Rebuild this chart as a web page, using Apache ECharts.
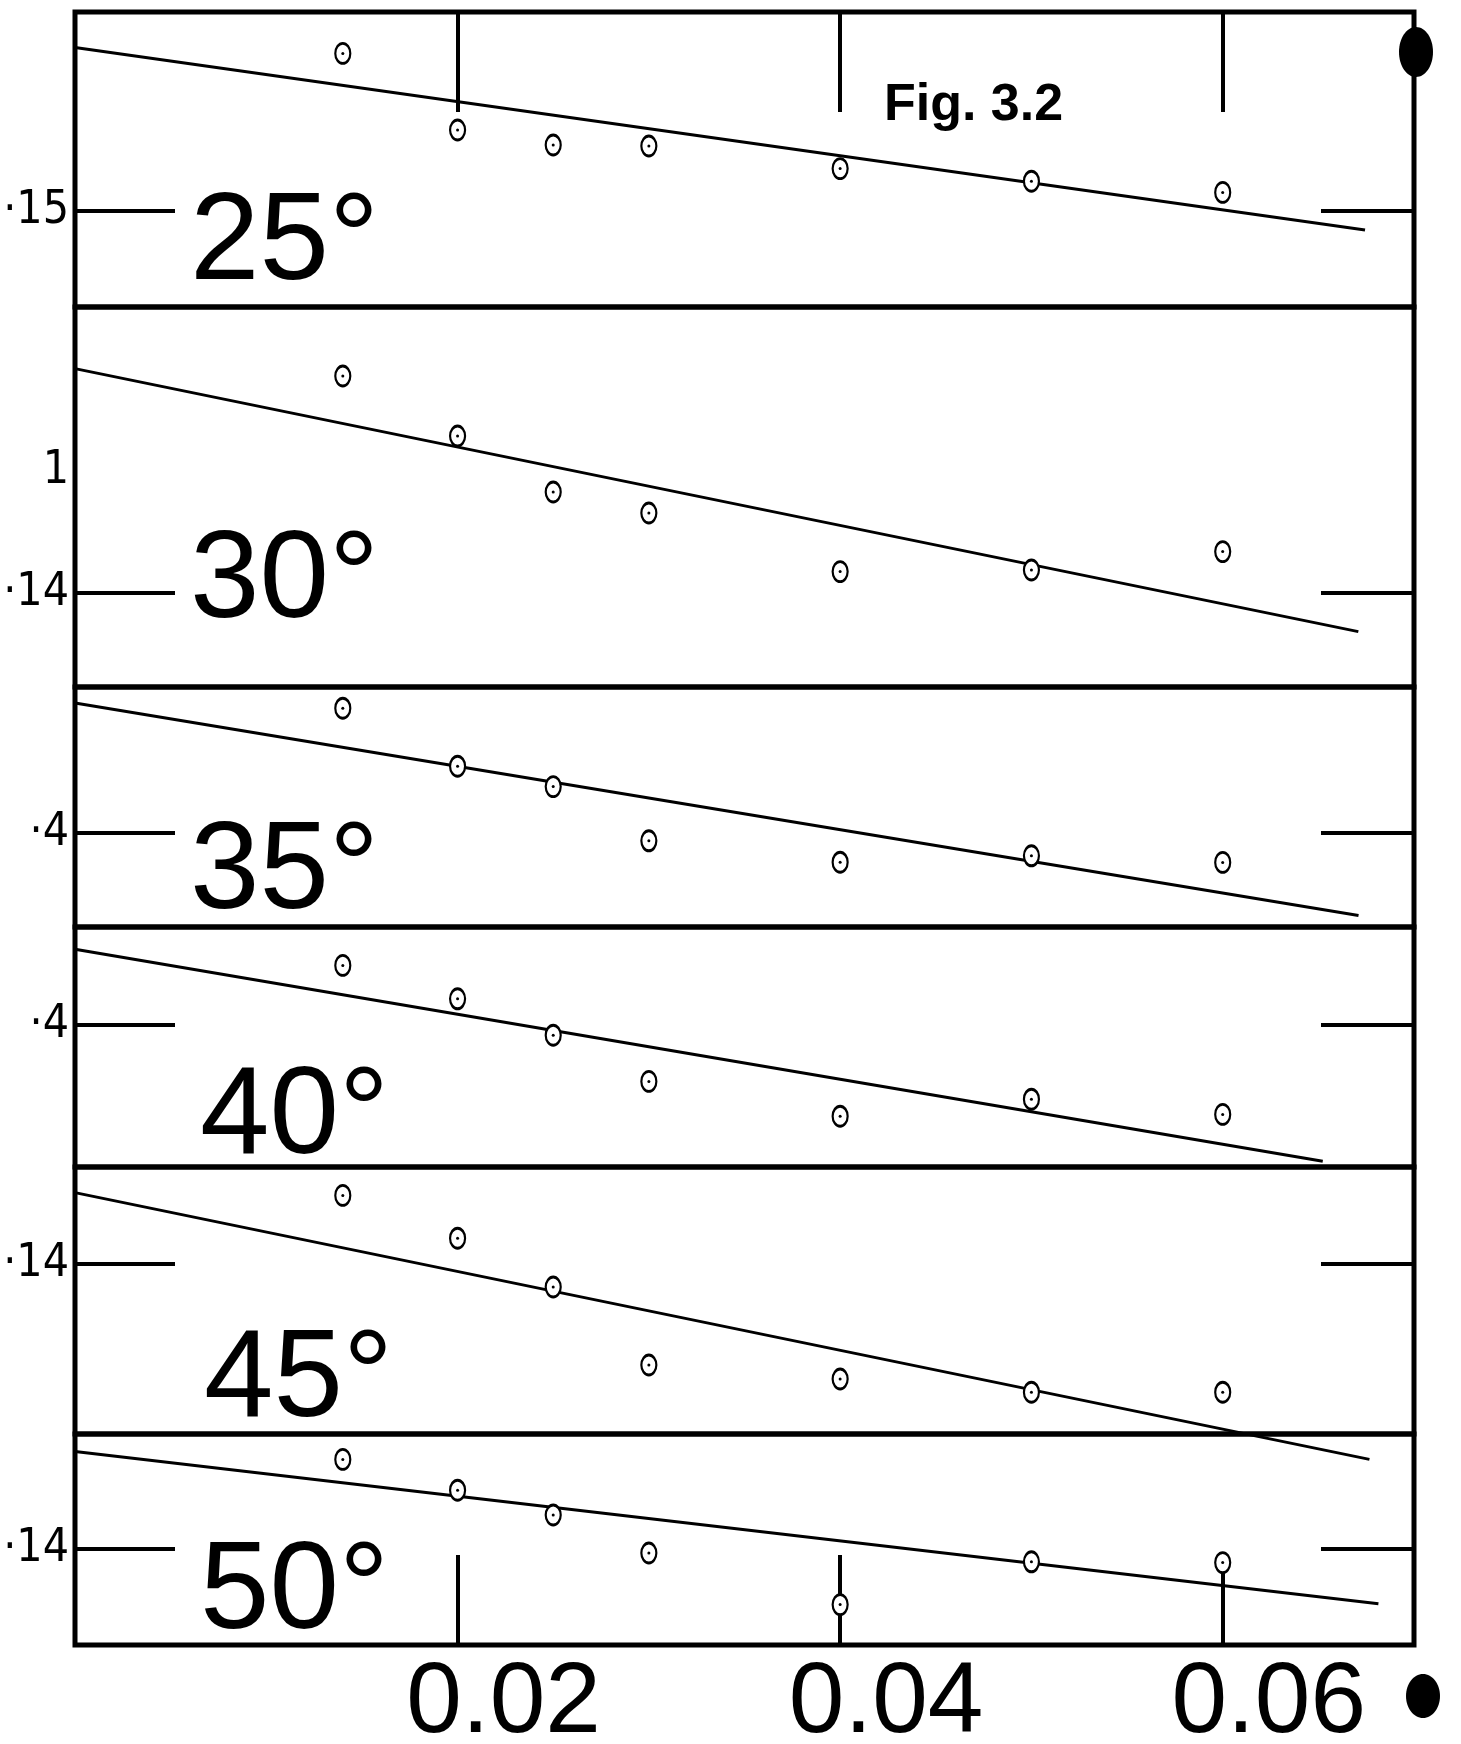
<!DOCTYPE html>
<html><head><meta charset="utf-8">
<script src="https://cdn.jsdelivr.net/npm/echarts@6/dist/echarts.min.js"></script>
<style>html,body{margin:0;padding:0;background:#fff}#c{width:1461px;height:1744px}</style>
</head><body><div id="c"></div>
<script>
// ---- data ----
const xValues = [0.014, 0.02, 0.025, 0.03, 0.04, 0.05, 0.06];
const panelTitles = ['25°', '30°', '35°', '40°', '45°', '50°'];
const y25 = [0.15788, 0.15405, 0.15330, 0.15325, 0.15212, 0.15149, 0.15093];
const y30 = [0.15085, 0.14785, 0.14505, 0.14400, 0.14107, 0.14115, 0.14207];
const y35 = [0.14624, 0.14334, 0.14232, 0.13961, 0.13854, 0.13886, 0.13853];
const y40 = [0.14298, 0.14131, 0.13949, 0.13718, 0.13544, 0.13629, 0.13553];
const y45 = [0.14343, 0.14129, 0.13885, 0.13495, 0.13425, 0.13359, 0.13359];
const y50 = [0.14448, 0.14294, 0.14170, 0.13980, 0.13722, 0.13936, 0.13932];
const fit25 = [[0, 0.15818], [0.06744, 0.14905]];
const fit30 = [[0, 0.15122], [0.06709, 0.13807]];
const fit35 = [[0, 0.14650], [0.06710, 0.13588]];
const fit40 = [[0, 0.14379], [0.06523, 0.13319]];
const fit45 = [[0, 0.14357], [0.06767, 0.13023]];
const fit50 = [[0, 0.14488], [0.06814, 0.13726]];
const yTickValues = [[0.15], [0.14], [0.14], [0.14], [0.14], [0.14]];
const yLabelValues = [[0.15], [0.1461, 0.14], [0.14], [0.14], [0.14], [0.14]];
const yLabelTexts = [['·15'], ['1', '·14'], ['·4'], ['·4'], ['·14'], ['·14']];
const yMin = [0.1452, 0.1353, 0.1353, 0.1329, 0.1315, 0.1352];
const yMax = [0.15995, 0.1543, 0.1473, 0.1449, 0.14485, 0.14575];
const xTicks = [0.02, 0.04, 0.06];
const xTickLabels = ['0.02', '0.04', '0.06'];
const figLabel = 'Fig. 3.2';

const yData = [y25, y30, y35, y40, y45, y50];
const fits = [fit25, fit30, fit35, fit40, fit45, fit50];

// ---- layout ----
const gridTops = [12, 307, 687, 927, 1167, 1434];
const gridHeights = [295, 380, 240, 240, 267, 211];
const titlePos = [[190, 245], [190, 583], [190, 874], [200, 1119], [204, 1382], [200, 1594]];
const FONT = '"Liberation Sans", Arial, sans-serif';
const NARROW = '"DejaVu Sans Condensed", "Liberation Sans", sans-serif';
const ellipse = 'path://M10,0A10,10,0,1,1,10,20A10,10,0,1,1,10,0Z';

const grid = [], xAxis = [], yAxis = [], series = [], graphic = [];
for (let i = 0; i < 6; i++) {
  grid.push({left: 75, width: 1339, top: gridTops[i], height: gridHeights[i],
    outerBoundsMode: 'none', containLabel: false,
    show: true, borderColor: '#000', borderWidth: 5, backgroundColor: 'transparent'});
  const isTop = i === 0, isBottom = i === 5;
  xAxis.push({
    type: 'value', gridIndex: i, min: 0, max: 0.07,
    position: isTop ? 'top' : 'bottom',
    show: isTop || isBottom,
    axisLine: {show: false},
    splitLine: {show: false},
    axisTick: {show: true, inside: true, length: isTop ? 100 : 90, customValues: xTicks,
      lineStyle: {color: '#000', width: 4}},
    axisLabel: {show: isBottom, customValues: xTicks, color: '#000', fontFamily: FONT,
      fontSize: 100, lineHeight: 100, margin: 9, padding: [0, 0, 0, 92],
      formatter: v => { const k = xTicks.findIndex(t => Math.abs(t - v) < 1e-9); return k >= 0 ? xTickLabels[k] : ''; }}
  });
  const labVals = yLabelValues[i], labTxt = yLabelTexts[i];
  yAxis.push({
    type: 'value', gridIndex: i, min: yMin[i], max: yMax[i], position: 'left',
    axisLine: {show: false}, splitLine: {show: false},
    axisTick: {show: true, inside: true, length: 100, customValues: yTickValues[i],
      lineStyle: {color: '#000', width: 4}},
    axisLabel: {show: true, customValues: labVals, color: '#000', fontFamily: NARROW,
      fontSize: 46, margin: 6,
      formatter: v => { const k = labVals.findIndex(t => Math.abs(t - v) < 1e-9); return k >= 0 ? labTxt[k] : ''; }}
  });
  yAxis.push({
    type: 'value', gridIndex: i, min: yMin[i], max: yMax[i], position: 'right',
    axisLine: {show: false}, splitLine: {show: false},
    axisTick: {show: true, inside: true, length: 93, customValues: yTickValues[i],
      lineStyle: {color: '#000', width: 4}},
    axisLabel: {show: false}
  });
  const pts = xValues.map((x, j) => [x, yData[i][j]]);
  series.push({
    type: 'line', xAxisIndex: i, yAxisIndex: 2 * i, data: fits[i],
    symbol: 'none', clip: false, silent: true, z: 2,
    lineStyle: {color: '#000', width: 3}
  });
  series.push({
    type: 'scatter', xAxisIndex: i, yAxisIndex: 2 * i, data: pts,
    symbol: ellipse, symbolSize: [15, 20], z: 3, silent: true,
    itemStyle: {color: '#fff', borderColor: '#000', borderWidth: 2.5, opacity: 1}
  });
  series.push({
    type: 'scatter', xAxisIndex: i, yAxisIndex: 2 * i, data: pts,
    symbol: 'circle', symbolSize: 3, z: 4, silent: true,
    itemStyle: {color: '#000', opacity: 1}
  });
  graphic.push({type: 'text', x: titlePos[i][0], y: titlePos[i][1], z: 10,
    style: {text: panelTitles[i], font: '125px ' + FONT, fill: '#000', verticalAlign: 'middle', textVerticalAlign: 'middle'}});
}
graphic.push({type: 'text', x: 884, y: 106, z: 10,
  style: {text: figLabel, font: 'bold 52px ' + FONT, fill: '#000', verticalAlign: 'middle', textVerticalAlign: 'middle'}});
graphic.push({type: 'ellipse', z: 10, shape: {cx: 1416, cy: 52, rx: 17, ry: 25}, style: {fill: '#000'}});
graphic.push({type: 'ellipse', z: 10, shape: {cx: 1423, cy: 1696, rx: 17, ry: 22}, style: {fill: '#000'}});

const chart = echarts.init(document.getElementById('c'), null, {renderer: 'canvas'});
chart.setOption({
  backgroundColor: '#fff',
  animation: false,
  grid, xAxis, yAxis, series, graphic
});
</script></body></html>
